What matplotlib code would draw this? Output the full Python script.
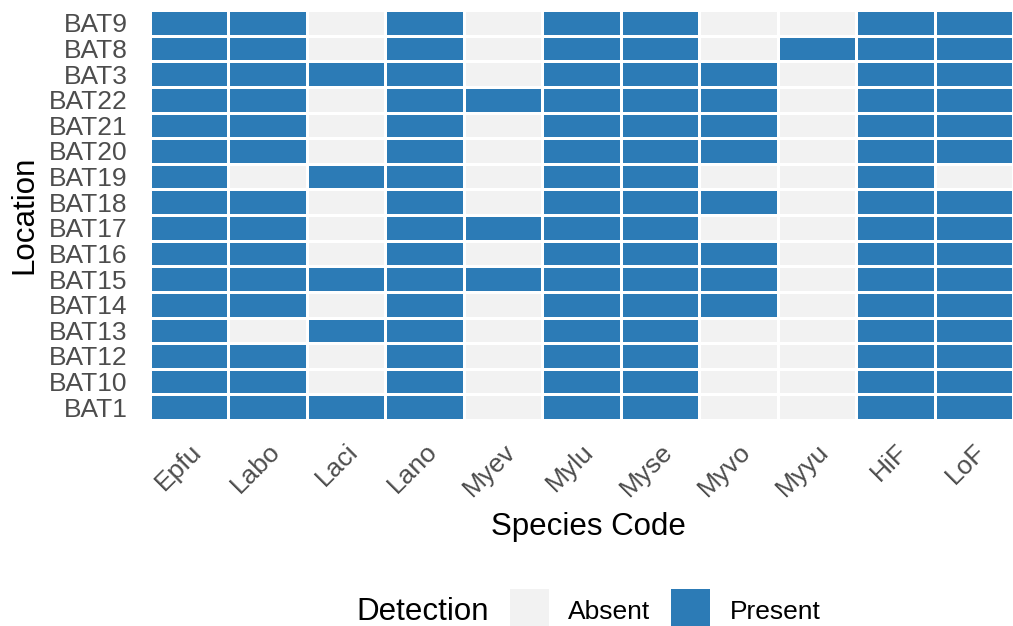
import numpy as np
import matplotlib
matplotlib.use("Agg")
import matplotlib.pyplot as plt
from matplotlib.colors import ListedColormap
from matplotlib.patches import Rectangle

plt.rcParams["font.family"] = ["Liberation Sans", "DejaVu Sans"]

species = ["Epfu", "Labo", "Laci", "Lano", "Myev", "Mylu", "Myse",
           "Myvo", "Myyu", "HiF", "LoF"]
locations = ["BAT9", "BAT8", "BAT3", "BAT22", "BAT21", "BAT20", "BAT19",
             "BAT18", "BAT17", "BAT16", "BAT15", "BAT14", "BAT13", "BAT12",
             "BAT10", "BAT1"]

# detection per location (1 = Present, 0 = Absent), columns follow `species`
bat9  = [1, 1, 0, 1, 0, 1, 1, 0, 0, 1, 1]
bat8  = [1, 1, 0, 1, 0, 1, 1, 0, 1, 1, 1]
bat3  = [1, 1, 1, 1, 0, 1, 1, 1, 0, 1, 1]
bat22 = [1, 1, 0, 1, 1, 1, 1, 1, 0, 1, 1]
bat21 = [1, 1, 0, 1, 0, 1, 1, 1, 0, 1, 1]
bat20 = [1, 1, 0, 1, 0, 1, 1, 1, 0, 1, 1]
bat19 = [1, 0, 1, 1, 0, 1, 1, 0, 0, 1, 0]
bat18 = [1, 1, 0, 1, 0, 1, 1, 1, 0, 1, 1]
bat17 = [1, 1, 0, 1, 1, 1, 1, 0, 0, 1, 1]
bat16 = [1, 1, 0, 1, 0, 1, 1, 1, 0, 1, 1]
bat15 = [1, 1, 1, 1, 1, 1, 1, 1, 0, 1, 1]
bat14 = [1, 1, 0, 1, 0, 1, 1, 1, 0, 1, 1]
bat13 = [1, 0, 1, 1, 0, 1, 1, 0, 0, 1, 1]
bat12 = [1, 1, 0, 1, 0, 1, 1, 0, 0, 1, 1]
bat10 = [1, 1, 0, 1, 0, 1, 1, 0, 0, 1, 1]
bat1  = [1, 1, 1, 1, 0, 1, 1, 0, 0, 1, 1]

detection = np.array([bat9, bat8, bat3, bat22, bat21, bat20, bat19, bat18,
                      bat17, bat16, bat15, bat14, bat13, bat12, bat10, bat1])
levels = ["Absent", "Present"]
colors = ["#F2F2F2", "#2C7BB6"]

W, H = 1013, 626
fig = plt.figure(figsize=(W / 100, H / 100), dpi=100)
ax = fig.add_axes([150 / W, 1 - 420 / H, 863 / W, 410 / H])

ax.pcolormesh(np.arange(len(species) + 1), np.arange(len(locations) + 1),
              detection, cmap=ListedColormap(colors), vmin=0, vmax=1,
              edgecolors="white", linewidth=2.0)
ax.set_xlim(0, len(species))
ax.set_ylim(len(locations), 0)
for s in ax.spines.values():
    s.set_visible(False)

ax.set_yticks(np.arange(len(locations)) + 0.5)
ax.set_yticklabels(locations, fontsize=19, color="#4D4D4D")
ax.set_xticks(np.arange(len(species)) + 0.5)
ax.set_xticklabels(species, fontsize=19, color="#4D4D4D", rotation=45,
                   ha="right", va="top", rotation_mode="anchor")
ax.tick_params(axis="y", length=0, pad=16)
ax.tick_params(axis="x", length=0, pad=14)

ax.set_xlabel("Species Code", fontsize=22.5)
ax.xaxis.set_label_coords((588 - 150) / 863, -(527 - 420) / 410)
ax.xaxis.label.set_va("center")
ax.set_ylabel("Location", fontsize=22.5)
ax.yaxis.set_label_coords((24 - 150) / 863, 0.5)
ax.yaxis.label.set_va("center")

# legend along the bottom
fig.text(356 / W, 1 - 612 / H, "Detection", fontsize=22.5, ha="left", va="center")
key_x = [510, 671]
text_x = [568, 730]
for lvl, col, kx, tx in zip(levels, colors, key_x, text_x):
    fig.add_artist(Rectangle((kx / W, 1 - 628 / H), 39 / W, 39 / H,
                             transform=fig.transFigure, facecolor=col,
                             edgecolor="none"))
    fig.text(tx / W, 1 - 612 / H, lvl, fontsize=19, ha="left", va="center")

fig.savefig("out.png", dpi=100)
